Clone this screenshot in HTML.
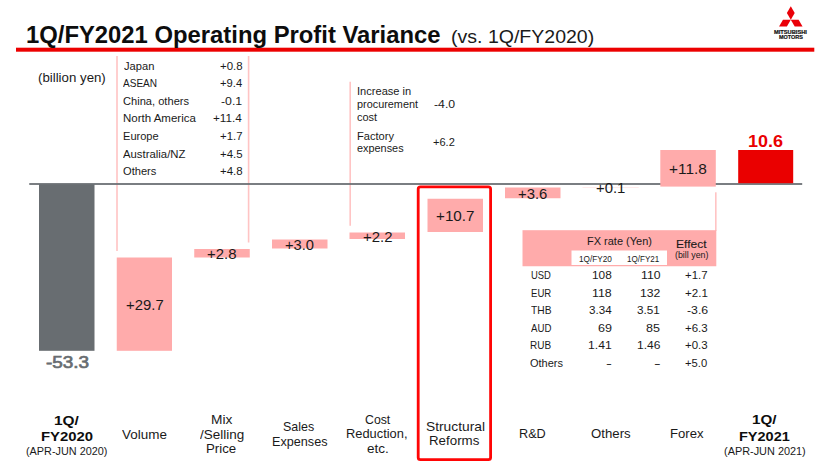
<!DOCTYPE html>
<html><head><meta charset="utf-8"><title>1Q/FY2021 Operating Profit Variance</title>
<style>
html,body{margin:0;padding:0;background:#fff;}
body{width:820px;height:464px;position:relative;overflow:hidden;font-family:"Liberation Sans",sans-serif;}
#c div{position:absolute;box-sizing:content-box;}
#c span{position:absolute;white-space:nowrap;line-height:1;transform-origin:0 0;display:block;}
</style></head><body><div id="c">
<svg style="position:absolute;left:0;top:0" width="820" height="464" viewBox="0 0 820 464"><rect x="16.00" y="47.70" width="798.30" height="4.00" fill="#ec0000"/>
<rect x="116.20" y="56.00" width="1.60" height="195.00" fill="#ffc4c4"/>
<rect x="247.80" y="56.00" width="1.60" height="186.50" fill="#ffc4c4"/>
<rect x="349.40" y="81.75" width="1.60" height="144.00" fill="#ffc4c4"/>
<rect x="715.00" y="192.30" width="1.60" height="38.70" fill="#ffc4c4"/>
<rect x="39.00" y="184.00" width="55.50" height="166.80" fill="#686d71"/>
<rect x="116.75" y="257.50" width="55.25" height="93.30" fill="#ffabab"/>
<rect x="194.25" y="249.00" width="55.50" height="8.50" fill="#ffabab"/>
<rect x="272.00" y="239.50" width="55.50" height="9.00" fill="#ffabab"/>
<rect x="349.50" y="232.50" width="55.50" height="6.50" fill="#ffabab"/>
<rect x="427.50" y="198.75" width="55.50" height="33.25" fill="#ffabab"/>
<rect x="505.00" y="187.50" width="55.50" height="10.75" fill="#ffabab"/>
<rect x="582.50" y="187.20" width="56.25" height="0.60" fill="#ffe0e0"/>
<rect x="29.25" y="183.10" width="772.95" height="1.80" fill="#6c7175"/>
<rect x="660.30" y="150.00" width="55.50" height="36.60" fill="#ffabab"/>
<rect x="738.20" y="150.00" width="55.00" height="33.20" fill="#ea0000"/>
<rect x="522.50" y="230.20" width="193.80" height="36.05" fill="#ffabab"/>
<rect x="571.50" y="250.50" width="95.50" height="14.50" fill="#ffffff"/><rect x="418.2" y="186.8" width="72.4" height="272.8" rx="2.2" ry="2.2" fill="none" stroke="#ff0505" stroke-width="2.8"/><g fill="#ea0008"><polygon points="790.80,19.80 794.71,13.02 790.80,6.24 786.88,13.02"/><polygon points="790.80,19.80 798.63,19.80 802.54,26.58 794.71,26.58"/><polygon points="790.80,19.80 782.97,19.80 779.05,26.58 786.88,26.58"/></g></svg>
<span style="left:25.60px;top:24.11px;font-size:23.5px;font-weight:bold;color:#0d0d0d;transform:scaleX(1.0140);">1Q/FY2021 Operating Profit Variance</span>
<span style="left:450.70px;top:26.92px;font-size:19px;color:#1a1a1a;transform:scaleX(1.0276);">(vs. 1Q/FY2020)</span>
<span style="left:38.39px;top:72.42px;font-size:12.5px;color:#1a1a1a;transform:scaleX(1.0606);">(billion yen)</span>
<span style="left:123.82px;top:60.77px;font-size:11.5px;color:#1a1a1a;transform:scaleX(0.9698);">Japan</span>
<span style="left:220.19px;top:60.77px;font-size:11.5px;color:#1a1a1a;transform:scaleX(0.9960);">+0.8</span>
<span style="left:122.95px;top:78.27px;font-size:11.5px;color:#1a1a1a;transform:scaleX(0.8739);">ASEAN</span>
<span style="left:220.23px;top:78.27px;font-size:11.5px;color:#1a1a1a;transform:scaleX(0.9737);">+9.4</span>
<span style="left:123.15px;top:95.77px;font-size:11.5px;color:#1a1a1a;transform:scaleX(0.9659);">China, others</span>
<span style="left:221.06px;top:95.77px;font-size:11.5px;color:#1a1a1a;transform:scaleX(1.0688);">-0.1</span>
<span style="left:122.64px;top:112.52px;font-size:11.5px;color:#1a1a1a;transform:scaleX(0.9997);">North America</span>
<span style="left:213.16px;top:112.52px;font-size:11.5px;color:#1a1a1a;transform:scaleX(1.0193);">+11.4</span>
<span style="left:122.68px;top:131.02px;font-size:11.5px;color:#1a1a1a;transform:scaleX(0.9617);">Europe</span>
<span style="left:220.20px;top:131.02px;font-size:11.5px;color:#1a1a1a;transform:scaleX(0.9896);">+1.7</span>
<span style="left:123.03px;top:148.77px;font-size:11.5px;color:#1a1a1a;transform:scaleX(0.9863);">Australia/NZ</span>
<span style="left:220.19px;top:148.77px;font-size:11.5px;color:#1a1a1a;transform:scaleX(0.9956);">+4.5</span>
<span style="left:123.19px;top:166.27px;font-size:11.5px;color:#1a1a1a;transform:scaleX(0.9674);">Others</span>
<span style="left:220.19px;top:166.27px;font-size:11.5px;color:#1a1a1a;transform:scaleX(0.9960);">+4.8</span>
<span style="left:357.23px;top:86.36px;font-size:10.5px;color:#1a1a1a;transform:scaleX(1.0558);">Increase in</span>
<span style="left:356.83px;top:99.36px;font-size:10.5px;color:#1a1a1a;transform:scaleX(1.0354);">procurement</span>
<span style="left:357.24px;top:112.11px;font-size:10.5px;color:#1a1a1a;transform:scaleX(1.0463);">cost</span>
<span style="left:356.70px;top:131.11px;font-size:10.5px;color:#1a1a1a;transform:scaleX(1.0545);">Factory</span>
<span style="left:357.26px;top:142.86px;font-size:10.5px;color:#1a1a1a;transform:scaleX(1.0365);">expenses</span>
<span style="left:434.02px;top:99.36px;font-size:10.5px;color:#1a1a1a;transform:scaleX(1.1687);">-4.0</span>
<span style="left:433.29px;top:137.36px;font-size:10.5px;color:#1a1a1a;transform:scaleX(1.0523);">+6.2</span>
<span style="left:125.83px;top:298.23px;font-size:14.2px;color:#1a1a1a;transform:scaleX(1.0512);">+29.7</span>
<span style="left:206.80px;top:247.48px;font-size:14.2px;color:#1a1a1a;transform:scaleX(1.0510);">+2.8</span>
<span style="left:284.85px;top:238.48px;font-size:14.2px;color:#1a1a1a;transform:scaleX(1.0348);">+3.0</span>
<span style="left:362.85px;top:230.48px;font-size:14.2px;color:#1a1a1a;transform:scaleX(1.0521);">+2.2</span>
<span style="left:435.76px;top:209.23px;font-size:14.2px;color:#1a1a1a;transform:scaleX(1.0719);">+10.7</span>
<span style="left:517.82px;top:187.48px;font-size:14.2px;color:#1a1a1a;transform:scaleX(1.0480);">+3.6</span>
<span style="left:595.85px;top:180.98px;font-size:14.2px;color:#1a1a1a;transform:scaleX(1.0498);">+0.1</span>
<span style="left:668.55px;top:161.78px;font-size:14.2px;color:#1a1a1a;transform:scaleX(1.0847);">+11.8</span>
<span style="left:45.70px;top:354.03px;font-size:16.5px;color:#686d71;transform:scaleX(1.1453);-webkit-text-stroke:0.7px #686d71;">-53.3</span>
<span style="left:748.28px;top:132.80px;font-size:16.3px;font-weight:bold;color:#ea0000;transform:scaleX(1.1051);">10.6</span>
<span style="left:53.59px;top:414.24px;font-size:13.3px;font-weight:bold;color:#0d0d0d;transform:scaleX(1.1587);">1Q/</span>
<span style="left:40.60px;top:430.49px;font-size:13.3px;font-weight:bold;color:#0d0d0d;transform:scaleX(1.1190);">FY2020</span>
<span style="left:26.23px;top:447.08px;font-size:10.3px;color:#1a1a1a;transform:scaleX(1.0536);">(APR-JUN 2020)</span>
<span style="left:121.93px;top:428.24px;font-size:13.3px;color:#1a1a1a;transform:scaleX(1.0120);">Volume</span>
<span style="left:211.24px;top:413.24px;font-size:13.3px;color:#1a1a1a;transform:scaleX(1.0333);">Mix</span>
<span style="left:200.09px;top:428.24px;font-size:13.3px;color:#1a1a1a;transform:scaleX(1.0141);">/Selling</span>
<span style="left:206.39px;top:442.24px;font-size:13.3px;color:#1a1a1a;transform:scaleX(0.9966);">Price</span>
<span style="left:283.47px;top:419.74px;font-size:13.3px;color:#1a1a1a;transform:scaleX(0.9378);">Sales</span>
<span style="left:271.53px;top:435.24px;font-size:13.3px;color:#1a1a1a;transform:scaleX(0.9510);">Expenses</span>
<span style="left:365.01px;top:413.24px;font-size:13.3px;color:#1a1a1a;transform:scaleX(0.9248);">Cost</span>
<span style="left:346.45px;top:426.74px;font-size:13.3px;color:#1a1a1a;transform:scaleX(0.9671);">Reduction,</span>
<span style="left:367.04px;top:442.24px;font-size:13.3px;color:#1a1a1a;transform:scaleX(1.0180);">etc.</span>
<span style="left:425.64px;top:419.94px;font-size:13.3px;color:#1a1a1a;transform:scaleX(1.0360);">Structural</span>
<span style="left:429.39px;top:434.04px;font-size:13.3px;color:#1a1a1a;transform:scaleX(1.0014);">Reforms</span>
<span style="left:519.44px;top:426.74px;font-size:13.3px;color:#1a1a1a;transform:scaleX(0.9528);">R&amp;D</span>
<span style="left:591.03px;top:426.74px;font-size:13.3px;color:#1a1a1a;transform:scaleX(0.9934);">Others</span>
<span style="left:670.42px;top:426.74px;font-size:13.3px;color:#1a1a1a;transform:scaleX(0.9864);">Forex</span>
<span style="left:751.60px;top:412.54px;font-size:13.3px;font-weight:bold;color:#0d0d0d;transform:scaleX(1.1419);">1Q/</span>
<span style="left:739.22px;top:429.64px;font-size:13.3px;font-weight:bold;color:#0d0d0d;transform:scaleX(1.0914);">FY2021</span>
<span style="left:723.82px;top:447.08px;font-size:10.3px;color:#1a1a1a;transform:scaleX(1.0583);">(APR-JUN 2021)</span>
<span style="left:586.73px;top:236.27px;font-size:11.5px;color:#1a1a1a;transform:scaleX(0.9548);">FX rate (Yen)</span>
<span style="left:578.76px;top:255.39px;font-size:8.7px;color:#1a1a1a;transform:scaleX(0.9464);">1Q/FY20</span>
<span style="left:626.81px;top:255.39px;font-size:8.7px;color:#1a1a1a;transform:scaleX(0.9299);">1Q/FY21</span>
<span style="left:675.62px;top:239.43px;font-size:11.3px;color:#1a1a1a;transform:scaleX(1.0638);-webkit-text-stroke:0.12px #1a1a1a;">Effect</span>
<span style="left:675.09px;top:251.30px;font-size:8.5px;color:#1a1a1a;transform:scaleX(1.0409);">(bill yen)</span>
<span style="left:530.80px;top:270.01px;font-size:11.8px;color:#1a1a1a;transform:scaleX(0.7986);">USD</span>
<span style="left:591.98px;top:270.01px;font-size:11.8px;color:#1a1a1a;transform:scaleX(1.0038);">108</span>
<span style="left:640.94px;top:270.01px;font-size:11.8px;color:#1a1a1a;transform:scaleX(1.0347);">110</span>
<span style="left:685.22px;top:270.01px;font-size:11.8px;color:#1a1a1a;transform:scaleX(0.9653);">+1.7</span>
<span style="left:530.71px;top:287.51px;font-size:11.8px;color:#1a1a1a;transform:scaleX(0.8122);">EUR</span>
<span style="left:591.96px;top:287.51px;font-size:11.8px;color:#1a1a1a;transform:scaleX(1.0464);">118</span>
<span style="left:639.96px;top:287.51px;font-size:11.8px;color:#1a1a1a;transform:scaleX(1.0353);">132</span>
<span style="left:685.21px;top:287.51px;font-size:11.8px;color:#1a1a1a;transform:scaleX(0.9804);">+2.1</span>
<span style="left:530.60px;top:305.01px;font-size:11.8px;color:#1a1a1a;transform:scaleX(0.8675);">THB</span>
<span style="left:588.91px;top:305.01px;font-size:11.8px;color:#1a1a1a;transform:scaleX(0.9857);">3.34</span>
<span style="left:636.92px;top:305.01px;font-size:11.8px;color:#1a1a1a;transform:scaleX(0.9934);">3.51</span>
<span style="left:687.03px;top:305.01px;font-size:11.8px;color:#1a1a1a;transform:scaleX(1.0415);">-3.6</span>
<span style="left:530.94px;top:322.51px;font-size:11.8px;color:#1a1a1a;transform:scaleX(0.8179);">AUD</span>
<span style="left:597.92px;top:322.51px;font-size:11.8px;color:#1a1a1a;transform:scaleX(1.0684);">69</span>
<span style="left:646.10px;top:322.51px;font-size:11.8px;color:#1a1a1a;transform:scaleX(1.0631);">85</span>
<span style="left:685.21px;top:322.51px;font-size:11.8px;color:#1a1a1a;transform:scaleX(0.9727);">+6.3</span>
<span style="left:530.12px;top:340.01px;font-size:11.8px;color:#1a1a1a;transform:scaleX(0.8455);">RUB</span>
<span style="left:587.91px;top:340.01px;font-size:11.8px;color:#1a1a1a;transform:scaleX(1.0311);">1.41</span>
<span style="left:636.98px;top:340.01px;font-size:11.8px;color:#1a1a1a;transform:scaleX(1.0209);">1.46</span>
<span style="left:685.21px;top:340.01px;font-size:11.8px;color:#1a1a1a;transform:scaleX(0.9727);">+0.3</span>
<span style="left:530.21px;top:357.61px;font-size:11.8px;color:#1a1a1a;transform:scaleX(0.9332);">Others</span>
<span style="left:605.55px;top:357.61px;font-size:11.8px;color:#1a1a1a;transform:scaleX(1.4982);">-</span>
<span style="left:653.60px;top:357.61px;font-size:11.8px;color:#1a1a1a;transform:scaleX(1.6932);">-</span>
<span style="left:685.23px;top:357.61px;font-size:11.8px;color:#1a1a1a;transform:scaleX(0.9510);">+5.0</span>
<span style="left:774.47px;top:29.96px;font-size:5.6px;font-weight:bold;color:#111;transform:scaleX(1.0183);-webkit-text-stroke:0.2px #111;">MITSUBISHI</span>
<span style="left:778.53px;top:35.36px;font-size:5.6px;font-weight:bold;color:#111;transform:scaleX(0.9784);-webkit-text-stroke:0.2px #111;">MOTORS</span>
</div></body></html>
